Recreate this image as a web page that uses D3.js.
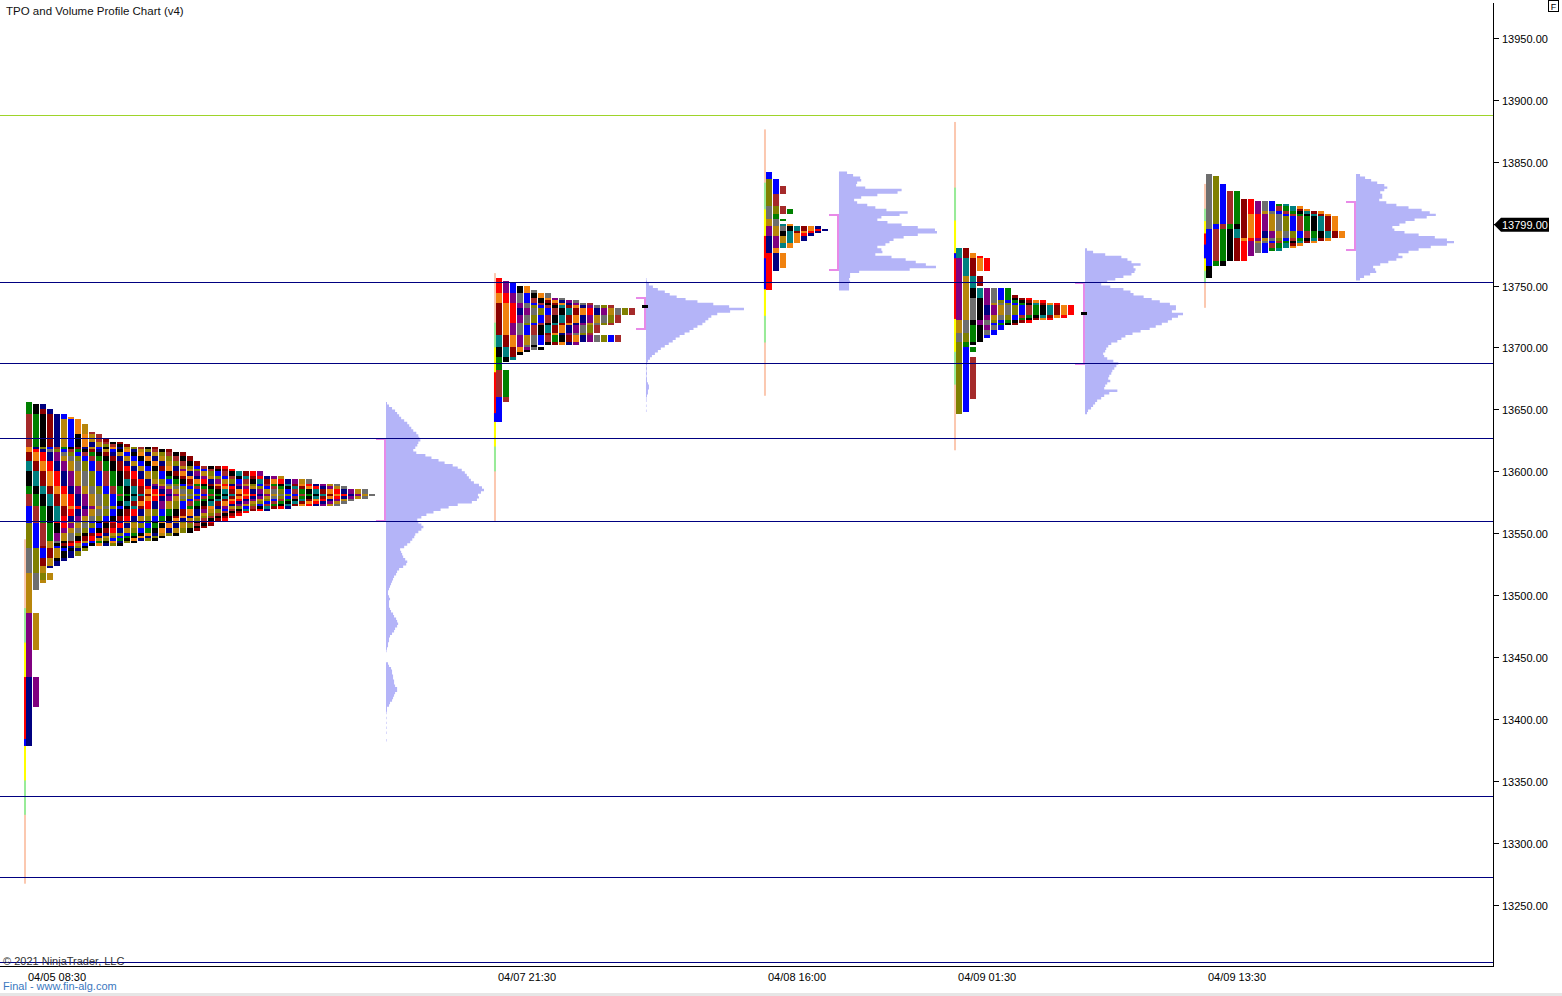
<!DOCTYPE html>
<html>
<head>
<meta charset="utf-8">
<title>TPO and Volume Profile Chart (v4)</title>
<script src="https://cdn.jsdelivr.net/npm/d3@7"></script>
<style>
  html, body { margin: 0; padding: 0; background: #ffffff; }
  svg { display: block; }
  text { font-family: "Liberation Sans", Arial, sans-serif; }
</style>
</head>
<body>
<svg id="chart" width="1562" height="996"></svg>
<script>
// ================= DATA =================
const chartTitle = "TPO and Volume Profile Chart (v4)";
const copyrightText = "\u00A9 2021 NinjaTrader, LLC";
const footerText = "Final - www.fin-alg.com";

const sessionLabels = ["04/05 08:30", "04/07 21:30", "04/08 16:00", "04/09 01:30", "04/09 13:30"];
// session start, in bar slots of the time axis
const sessionStartBar = [0, 67.14, 105.71, 132.86, 168.57];
// first period colour index of each session in the TPO palette
const sessionColorOffset = [0, 5, 12, 1, 3];
const tpoPalette = ["#000080", "#800080", "#b8860b", "#6e6e6e", "#808000", "#0000ff", "#a52a2a",
                    "#008000", "#000000", "#008080", "#8b0000", "#f0820f", "#ff0000"];
const tpoRowSize = 2; // price points per TPO row

// TPO periods [low, high] in chronological order
const tpoPeriods1 = [
  [13378, 13433], [13410, 13486], [13456, 13518], [13505, 13537], [13512, 13558], [13530, 13572],
  [13540, 13582], [13545, 13588], [13550, 13600], [13560, 13608], [13565, 13615], [13570, 13620],
  [13555, 13618], [13560, 13619], [13545, 13615], [13540, 13612], [13542, 13618], [13548, 13619],
  [13550, 13619], [13580, 13646], [13576, 13656],
  [13541, 13654], [13570, 13593], [13524, 13649], [13572, 13585], [13540, 13603], [13546, 13653],
  [13570, 13590], [13510, 13641], [13578, 13590], [13544, 13599], [13536, 13646], [13572, 13590],
  [13542, 13596], [13528, 13630], [13573, 13585], [13563, 13603], [13541, 13643], [13575, 13593],
  [13522, 13624], [13566, 13601], [13549, 13638], [13578, 13586], [13532, 13621], [13568, 13603],
  [13557, 13631], [13573, 13590], [13539, 13623], [13568, 13599], [13553, 13625], [13572, 13593],
  [13559, 13604], [13568, 13596], [13572, 13599], [13572, 13596], [13573, 13593]
];
const tpoPeriods2 = [
  [13640, 13659], [13656, 13681], [13660, 13692], [13688, 13700], [13690, 13709], [13692, 13736],
  [13696, 13744], [13720, 13756], [13726, 13731.8], [13698, 13753], [13703, 13709], [13699, 13743],
  [13718, 13733], [13703, 13752], [13704, 13739], [13704, 13709], [13694, 13750.6], [13712, 13733.6],
  [13703, 13738], [13703, 13749.8], [13726, 13731], [13702, 13737], [13703, 13740], [13719, 13732.6],
  [13704, 13746], [13704, 13734.7], [13704, 13710], [13705, 13736.6]
];
const tpoPeriods3 = [
  [13746, 13776], [13762, 13790], [13780, 13797], [13785, 13803], [13795, 13814], [13808, 13836],
  [13824, 13842], [13808, 13830], [13803, 13812], [13791, 13797], [13781, 13800], [13792, 13797],
  [13765, 13800], [13791, 13796], [13787, 13798]
];
const tpoPeriods4 = [
  [13722, 13772], [13712, 13758], [13704, 13740], [13647, 13712], [13649, 13700], [13658, 13691],
  [13696, 13718], [13702, 13748], [13740, 13780], [13750, 13779], [13762, 13775], [13762, 13773],
  [13726, 13733], [13714, 13747], [13723, 13736], [13711, 13747], [13721, 13738.5], [13708, 13747],
  [13725, 13733.6], [13718, 13747], [13719, 13740], [13724, 13735], [13718, 13741], [13722, 13737],
  [13720, 13739]
];
const tpoPeriods5 = [
  [13797, 13839], [13800, 13837], [13767, 13832], [13771, 13826], [13766, 13826], [13756, 13800],
  [13788, 13796], [13771, 13820.6], [13785.6, 13807], [13771, 13820], [13788, 13794.5], [13774, 13818.4],
  [13784, 13809.8], [13776, 13817], [13786, 13805], [13776, 13817], [13780, 13813], [13778, 13815],
  [13784, 13809.5], [13778, 13815], [13782, 13811], [13780, 13813.4]
];

// initial balance of each session and its A-period part
const ibLow = [13378.4, 13640, 13747, 13723, 13772];
const ibHigh = [13434, 13680, 13790, 13776, 13792];
const aPeriodLow = [13378.4, 13640, 13747, 13772, 13772];
const aPeriodHigh = [13384, 13647, 13772, 13776, 13783];
const ibExtensionMultiples = [2, 1, 0.5];
const ibColors = ["#fbc8b0", "#98eb98", "#ffff00", "#ff0000", "#0000ff"];

// value area and point of control
const vaHigh = [13627, 13740.6, 13808, 13753, 13818];
const vaLow = [13559, 13714.3, 13762, 13686, 13777.5];
const pocPrice = [null, 13733, null, 13727.5, null];

// volume profiles: volumes per 2-point bin from the top price downwards
const vpTopPrice = [13656, 13756, 13842, 13780, 13840];
const vpBinSize = 2;
const vpVolumes1 = [
  1, 3, 6, 9, 11, 13, 15, 18, 21, 23,
  25, 27, 30, 32, 33, 34, 32, 31, 29, 27,
  30, 39, 45, 52, 58, 66, 71, 75, 78, 80,
  82, 84, 87, 92, 95, 97, 94, 91, 92, 90,
  85, 71, 62, 54, 47, 40, 35, 31, 32, 35,
  37, 35, 32, 29, 28, 26, 24, 21, 18, 14,
  15, 16, 17, 19, 21, 20, 17, 13, 11, 10,
  8, 7, 6, 5, 4, 3, 2, 2, 3, 4,
  3, 3, 3, 4, 5, 7, 8, 10, 11, 12,
  11, 9, 8, 6, 4, 3, 3, 2, 2, 1,
  0.5, 0, 0, 0, 0, 2, 3, 5, 6, 6,
  7, 7, 8, 8, 9, 11, 11, 9, 8, 7,
  6, 4, 3, 1, 1, 0.5, 0, 0.5, 0, 0.5,
  0, 0.5, 0, 0.5, 0, 0, 0.5, 0
];
const vpVolumes2 = [
  0.5, 1, 3, 7, 12, 19, 24, 31, 40, 52,
  68, 84, 99, 85, 72, 66, 63, 60, 57, 52,
  48, 44, 39, 34, 30, 27, 23, 19, 15, 12,
  9, 6, 4, 2, 1, 0.5, 1, 0.5, 1, 0.5,
  1, 1, 2, 3, 3, 2, 2, 1, 0.5, 0.5,
  0, 0.5, 0, 0.5
];
const vpVolumes3 = [
  8, 14, 21, 22, 18, 17, 26, 62, 58, 38,
  22, 15, 18, 28, 36, 47, 68, 60, 42, 38,
  48, 62, 78, 95, 97, 78, 64, 54, 50, 46,
  38, 42, 43, 36, 52, 66, 76, 86, 96, 70,
  20, 11, 11, 10, 11, 10, 10, 10
];
const vpVolumes4 = [
  2, 8, 20, 36, 42, 46, 55, 48, 50, 49,
  46, 38, 30, 22, 16, 25, 38, 45, 48, 58,
  66, 74, 84, 90, 90, 86, 97, 92, 86, 82,
  76, 70, 64, 55, 47, 40, 36, 32, 26, 23,
  21, 20, 18, 19, 22, 28, 33, 31, 29, 27,
  26, 24, 23, 25, 22, 20, 19, 32, 24, 19,
  16, 12, 10, 8, 6, 3, 2
];
const vpVolumes5 = [
  4, 9, 15, 21, 28, 31, 28, 24, 26, 26,
  23, 30, 40, 52, 65, 73, 79, 70, 58, 49,
  43, 36, 38, 48, 62, 78, 90, 97, 90, 74,
  62, 52, 42, 46, 40, 32, 24, 17, 19, 20,
  14, 8, 4
];

// horizontal reference levels
const navyLevels = [13753, 13687.5, 13627, 13560, 13338, 13273, 13204];
const greenLevels = [13888];
const priceTicks = [13250, 13300, 13350, 13400, 13450, 13500, 13550, 13600, 13650,
                    13700, 13750, 13800, 13850, 13900, 13950];
const lastPrice = 13799;

// ================= LAYOUT =================
const W = 1562, H = 996;
const plotRight = 1493, plotTop = 3, plotBottom = 966;
const colWidth = 6;
const vpMaxWidth = 98;

const svg = d3.select("#chart");
svg.append("rect").attr("x", 0).attr("y", 0).attr("width", W).attr("height", H).attr("fill", "#ffffff");

const y = d3.scaleLinear().domain([13250, 13950]).range([905, 37.7]);
const x = d3.scaleLinear().domain([0, 1]).range([26, 33]); // 7 px per bar slot

const sessions = [tpoPeriods1, tpoPeriods2, tpoPeriods3, tpoPeriods4, tpoPeriods5].map((periods, i) => ({
  periods,
  start: sessionStartBar[i],
  offset: sessionColorOffset[i],
  vols: [vpVolumes1, vpVolumes2, vpVolumes3, vpVolumes4, vpVolumes5][i],
  vpTop: vpTopPrice[i],
  label: sessionLabels[i],
  i
}));

const gRange = svg.append("g").attr("class", "ib-lines");
const gTpo = svg.append("g").attr("class", "tpo").attr("shape-rendering", "crispEdges");
const gVp = svg.append("g").attr("class", "vp");
const gVa = svg.append("g").attr("class", "va").attr("shape-rendering", "crispEdges");

sessions.forEach(s => {
  // ---- TPO split profile ----
  const step = tpoRowSize;
  const minP = Math.floor(d3.min(s.periods, d => d[0]) / step) * step;
  const maxP = Math.ceil(d3.max(s.periods, d => d[1]) / step) * step;
  const cells = [];
  let maxCount = 0;
  for (let b = minP; b < maxP; b += step) {
    const c = b + step / 2;
    const touching = [];
    s.periods.forEach((p, pi) => { if (p[0] <= c && c <= p[1]) touching.push(pi); });
    touching.forEach((pi, j) => cells.push({ b, j, pi }));
    maxCount = Math.max(maxCount, touching.length);
  }
  const runs = [];
  d3.group(cells, d => d.j).forEach((arr, j) => {
    arr.sort((a, b) => a.b - b.b);
    let cur = null;
    arr.forEach(cell => {
      if (cur && cur.pi === cell.pi && Math.abs(cur.hiB - cell.b) < 1e-6) {
        cur.hiB = cell.b + step;
      } else {
        cur = { j, pi: cell.pi, loB: cell.b, hiB: cell.b + step };
        runs.push(cur);
      }
    });
  });
  gTpo.append("g").selectAll("rect").data(runs).join("rect")
    .attr("x", d => x(s.start + d.j))
    .attr("y", d => y(d.hiB))
    .attr("width", colWidth)
    .attr("height", d => y(d.loB) - y(d.hiB))
    .attr("fill", d => tpoPalette[(s.offset + d.pi) % tpoPalette.length]);

  // ---- Initial balance extension line ----
  const lo = ibLow[s.i], hi = ibHigh[s.i], R = hi - lo;
  const segs = ibExtensionMultiples.map((m, k) => ({ a: lo - m * R, b: hi + m * R, color: ibColors[k] }));
  segs.push({ a: lo, b: hi, color: ibColors[3] });
  segs.push({ a: aPeriodLow[s.i], b: aPeriodHigh[s.i], color: ibColors[4] });
  gRange.append("g").selectAll("rect").data(segs).join("rect")
    .attr("x", x(s.start) - 2)
    .attr("width", 2)
    .attr("y", d => y(d.b))
    .attr("height", d => y(d.a) - y(d.b))
    .attr("fill", d => d.color);

  // ---- Volume profile ----
  const vpX = x(s.start + maxCount) + 10;
  const w = d3.scaleLinear().domain([0, d3.max(s.vols)]).range([0, vpMaxWidth]);
  const pts = [];
  s.vols.forEach((v, k) => {
    const pTop = s.vpTop - k * vpBinSize;
    pts.push({ p: pTop, v });
    pts.push({ p: pTop - vpBinSize, v });
  });
  const area = d3.area()
    .y(d => y(d.p))
    .x0(vpX)
    .x1(d => vpX + w(d.v));
  gVp.append("path").datum(pts).attr("d", area).attr("fill", "#b4b4f8");

  // ---- Value area bracket ----
  const yh = y(vaHigh[s.i]), yl = y(vaLow[s.i]);
  const vaColor = "#e88ae8";
  const gb = gVa.append("g");
  gb.append("rect").attr("x", vpX - 2).attr("y", yh).attr("width", 2).attr("height", yl - yh).attr("fill", vaColor);
  gb.append("rect").attr("x", vpX - 10).attr("y", yh).attr("width", 10).attr("height", 2).attr("fill", vaColor);
  gb.append("rect").attr("x", vpX - 10).attr("y", yl - 2).attr("width", 10).attr("height", 2).attr("fill", vaColor);

  // ---- POC marker ----
  if (pocPrice[s.i] != null) {
    gVa.append("rect").attr("x", vpX - 4).attr("y", y(pocPrice[s.i]) - 1.5)
      .attr("width", 6).attr("height", 3).attr("fill", "#000000");
  }

  // ---- time label ----
  svg.append("text").attr("x", x(s.start) + 2).attr("y", 980.5)
    .attr("font-size", 11).attr("fill", "#000").text(s.label);
});

// ---- horizontal levels ----
const gLev = svg.append("g").attr("shape-rendering", "crispEdges");
gLev.selectAll("line.navy").data(navyLevels).join("line").attr("class", "navy")
  .attr("x1", 0).attr("x2", plotRight)
  .attr("y1", d => Math.round(y(d)) + 0.5).attr("y2", d => Math.round(y(d)) + 0.5)
  .attr("stroke", "#000080").attr("stroke-width", 1);
gLev.selectAll("line.green").data(greenLevels).join("line").attr("class", "green")
  .attr("x1", 0).attr("x2", plotRight)
  .attr("y1", d => Math.round(y(d)) + 0.5).attr("y2", d => Math.round(y(d)) + 0.5)
  .attr("stroke", "#9ed42a").attr("stroke-width", 1);

// ---- axes frame ----
const gAxis = svg.append("g").attr("shape-rendering", "crispEdges");
gAxis.append("line").attr("x1", plotRight + 0.5).attr("x2", plotRight + 0.5)
  .attr("y1", plotTop).attr("y2", plotBottom + 1).attr("stroke", "#000");
gAxis.append("line").attr("x1", 0).attr("x2", plotRight + 1)
  .attr("y1", plotBottom + 0.5).attr("y2", plotBottom + 0.5).attr("stroke", "#000");

const tickG = gAxis.selectAll("g.tick").data(priceTicks).join("g").attr("class", "tick")
  .attr("transform", d => `translate(0,${Math.round(y(d))})`);
tickG.append("line").attr("x1", plotRight).attr("x2", plotRight + 6)
  .attr("y1", 0.5).attr("y2", 0.5).attr("stroke", "#000");
tickG.append("text").attr("x", plotRight + 9).attr("y", 4.5)
  .attr("font-size", 11).attr("fill", "#000").text(d => d3.format(".2f")(d));

// ---- last price tag ----
const yl = y(lastPrice);
svg.append("path")
  .attr("d", `M${plotRight + 1},${yl} L${plotRight + 8},${yl - 7} L${plotRight + 56},${yl - 7} L${plotRight + 56},${yl + 7} L${plotRight + 8},${yl + 7} Z`)
  .attr("fill", "#000");
svg.append("text").attr("x", plotRight + 9).attr("y", yl + 4)
  .attr("font-size", 11).attr("fill", "#fff").text(d3.format(".2f")(lastPrice));

// ---- F box ----
svg.append("rect").attr("x", 1548.5).attr("y", 0.5).attr("width", 10).attr("height", 11)
  .attr("fill", "#fff").attr("stroke", "#000").attr("stroke-width", 1);
svg.append("text").attr("x", 1553.5).attr("y", 9.5).attr("text-anchor", "middle")
  .attr("font-size", 9).attr("fill", "#000").text("F");

// ---- texts ----
svg.append("text").attr("x", 6).attr("y", 14.5).attr("font-size", 11.5).attr("fill", "#111").text(chartTitle);
svg.append("text").attr("x", 3).attr("y", 965).attr("font-size", 11).attr("fill", "#333").text(copyrightText);
svg.append("text").attr("x", 3).attr("y", 990).attr("font-size", 11).attr("fill", "#3a78c0").text(footerText);

// bottom strip
svg.append("rect").attr("x", 0).attr("y", 993).attr("width", W).attr("height", 3).attr("fill", "#e6e6e6");
</script>
</body>
</html>
